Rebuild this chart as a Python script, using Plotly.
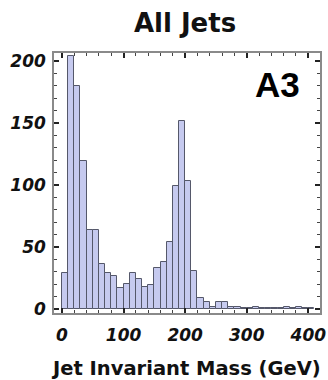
import plotly.graph_objects as go

# Histogram data (bin width 10 GeV)
bin_starts = [0, 10, 20, 30, 40, 50, 60, 70, 80, 90, 100, 110, 120, 130, 140, 150,
              160, 170, 180, 190, 200, 210, 220, 230, 240, 250, 260, 270, 280, 290,
              300, 310, 320, 330, 340, 350, 360, 370, 380, 390, 400]
counts = [29, 204, 180, 119, 64, 64, 36, 29, 27, 17, 20, 29, 24, 18, 19, 33,
          38, 54, 99, 152, 103, 31, 9, 6, 2, 6, 6, 2, 2, 1,
          1, 2, 1, 1, 1, 1, 2, 1, 2, 1, 1]
bin_width = 10
x_ticks = [0, 100, 200, 300, 400]
y_ticks = [0, 50, 100, 150, 200]

centers = [b + bin_width / 2 for b in bin_starts]

fig = go.Figure()
fig.add_trace(go.Bar(
    x=centers, y=counts, width=bin_width,
    marker=dict(color="#c6caef", line=dict(color="#55586a", width=1)),
    showlegend=False,
))

tick_font = dict(family="DejaVu Sans", size=17, color="#111", weight="bold", style="italic")

fig.update_layout(
    width=328, height=380,
    margin=dict(l=54, r=8, t=53, b=67, autoexpand=False),
    paper_bgcolor="white", plot_bgcolor="white",
    bargap=0,
    title=dict(text="All Jets", x=185/328, xref="container", xanchor="center",
               y=1 - 23/380, yref="container", yanchor="middle",
               font=dict(family="DejaVu Sans", size=26, color="#111", weight="bold")),
    xaxis=dict(range=[-13, 419], tickvals=x_ticks, showgrid=False, zeroline=False,
               automargin=False,
               showline=True, linecolor="#8a8a8a", linewidth=1.5, mirror="allticks",
               ticks="inside", ticklen=5, tickcolor="#222", tickwidth=1.5,
               minor=dict(ticks="inside", dtick=20, ticklen=3, tickcolor="#444", tickwidth=1),
               tickfont=tick_font, ticklabelstandoff=6),
    yaxis=dict(range=[-3.2, 206.5], tickvals=y_ticks, showgrid=False, zeroline=False,
               automargin=False,
               showline=True, linecolor="#8a8a8a", linewidth=1.5, mirror="allticks",
               ticks="inside", ticklen=5, tickcolor="#222", tickwidth=1.5,
               minor=dict(ticks="inside", dtick=10, ticklen=3, tickcolor="#444", tickwidth=1),
               tickfont=tick_font, ticklabelstandoff=3),
    annotations=[
        dict(text="Jet Invariant Mass (GeV)", xref="paper", yref="paper",
             x=(186 - 54) / 266, y=(313 - 368) / 260, xanchor="center", yanchor="middle",
             showarrow=False,
             font=dict(family="DejaVu Sans", size=19.5, color="#111", weight="bold")),
        dict(text="A3", xref="paper", yref="paper",
             x=(277 - 54) / 266, y=(313 - 84) / 260, xanchor="center", yanchor="middle",
             showarrow=False,
             font=dict(family="Liberation Sans", size=35, color="#000", weight="bold")),
    ],
)

fig.write_html("out.html", config={"displayModeBar": False},
               post_script="document.body.style.margin='0';")
